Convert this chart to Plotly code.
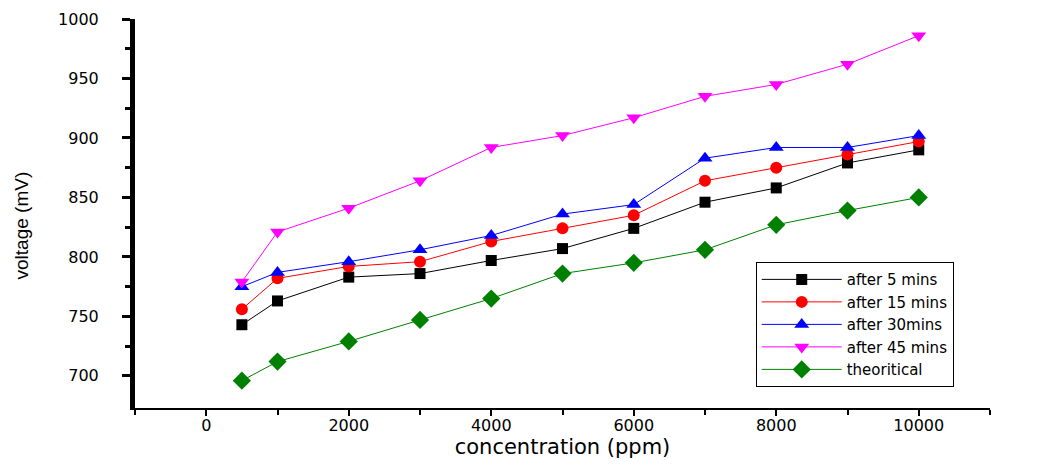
import plotly.graph_objects as go

conc = [500, 1000, 2000, 3000, 4000, 5000, 6000, 7000, 8000, 9000, 10000]
after_5 = [743, 763, 783, 786, 797, 807, 824, 846, 858, 879, 890]
after_15 = [756, 782, 792, 796, 813, 824, 835, 864, 875, 886, 897]
after_30 = [775, 787, 796, 806, 818, 836, 844, 883, 892, 892, 902]
after_45 = [779, 821, 841, 864, 892, 902, 917, 935, 945, 962, 986]
theoretical = [696, 712, 729, 747, 765, 786, 795, 806, 827, 839, 850]

x_ticks = [0, 2000, 4000, 6000, 8000, 10000]
x_ticklabels = ["0", "2000", "4000", "6000", "8000", "10000"]
y_ticks = [700, 750, 800, 850, 900, 950, 1000]

series = [
    ("after 5 mins", after_5, "black", "square", 11),
    ("after 15 mins", after_15, "red", "circle", 12),
    ("after 30mins", after_30, "blue", "triangle-up", 13),
    ("after 45 mins", after_45, "magenta", "triangle-down", 13),
    ("theoritical", theoretical, "green", "diamond", 14),
]

fig = go.Figure()
for name, vals, col, sym, sz in series:
    fig.add_trace(go.Scatter(
        x=conc, y=vals, name=name, mode="lines+markers",
        line=dict(color=col, width=1),
        marker=dict(symbol=sym, size=sz, color=col, line=dict(width=0)),
    ))

font = "DejaVu Sans, Verdana, sans-serif"
# page body has an 8px default margin; figure sized so the plot lands where the reference has it
fig.update_layout(
    width=1043, height=457,
    margin=dict(l=127, r=61, t=11, b=57),
    paper_bgcolor="white", plot_bgcolor="white",
    font=dict(family=font, color="black", size=16),
    showlegend=True,
    legend=dict(
        x=0.726, xanchor="left", y=0.375, yanchor="top",
        bordercolor="black", borderwidth=1, bgcolor="white",
        font=dict(size=15, family=font), tracegroupgap=0, itemwidth=80,
    ),
    xaxis=dict(
        range=[-1000, 11000], tickvals=x_ticks, ticktext=x_ticklabels, automargin=False,
        showgrid=False, zeroline=False, showline=True, linecolor="black", linewidth=2,
        ticks="outside", ticklen=6, tickwidth=2, tickcolor="black",
        minor=dict(tickvals=[-1000, 1000, 3000, 5000, 7000, 9000, 11000], ticks="outside", ticklen=5, tickwidth=2, tickcolor="black"),
        title=dict(text="concentration (ppm)", font=dict(size=21, family=font), standoff=2),
        tickfont=dict(size=16), ticklabelstandoff=-4,
    ),
    yaxis=dict(
        range=[673, 1000], tickvals=y_ticks, automargin=False,
        showgrid=False, zeroline=False, showline=True, linecolor="black", linewidth=5,
        ticks="outside", ticklen=8, tickwidth=3, tickcolor="black",
        minor=dict(tickvals=[725, 775, 825, 875, 925, 975], ticks="outside", ticklen=5, tickwidth=3, tickcolor="black"),
        tickfont=dict(size=16), ticklabelstandoff=20,
    ),
    annotations=[dict(
        text="voltage (mV)", textangle=-90, showarrow=False,
        xref="paper", yref="paper", x=-0.133, y=0.47, xanchor="center", yanchor="middle",
        font=dict(size=19, family="Liberation Sans Narrow, Liberation Sans, Arial, sans-serif"),
    )],
)

fig.write_html("out.html")
